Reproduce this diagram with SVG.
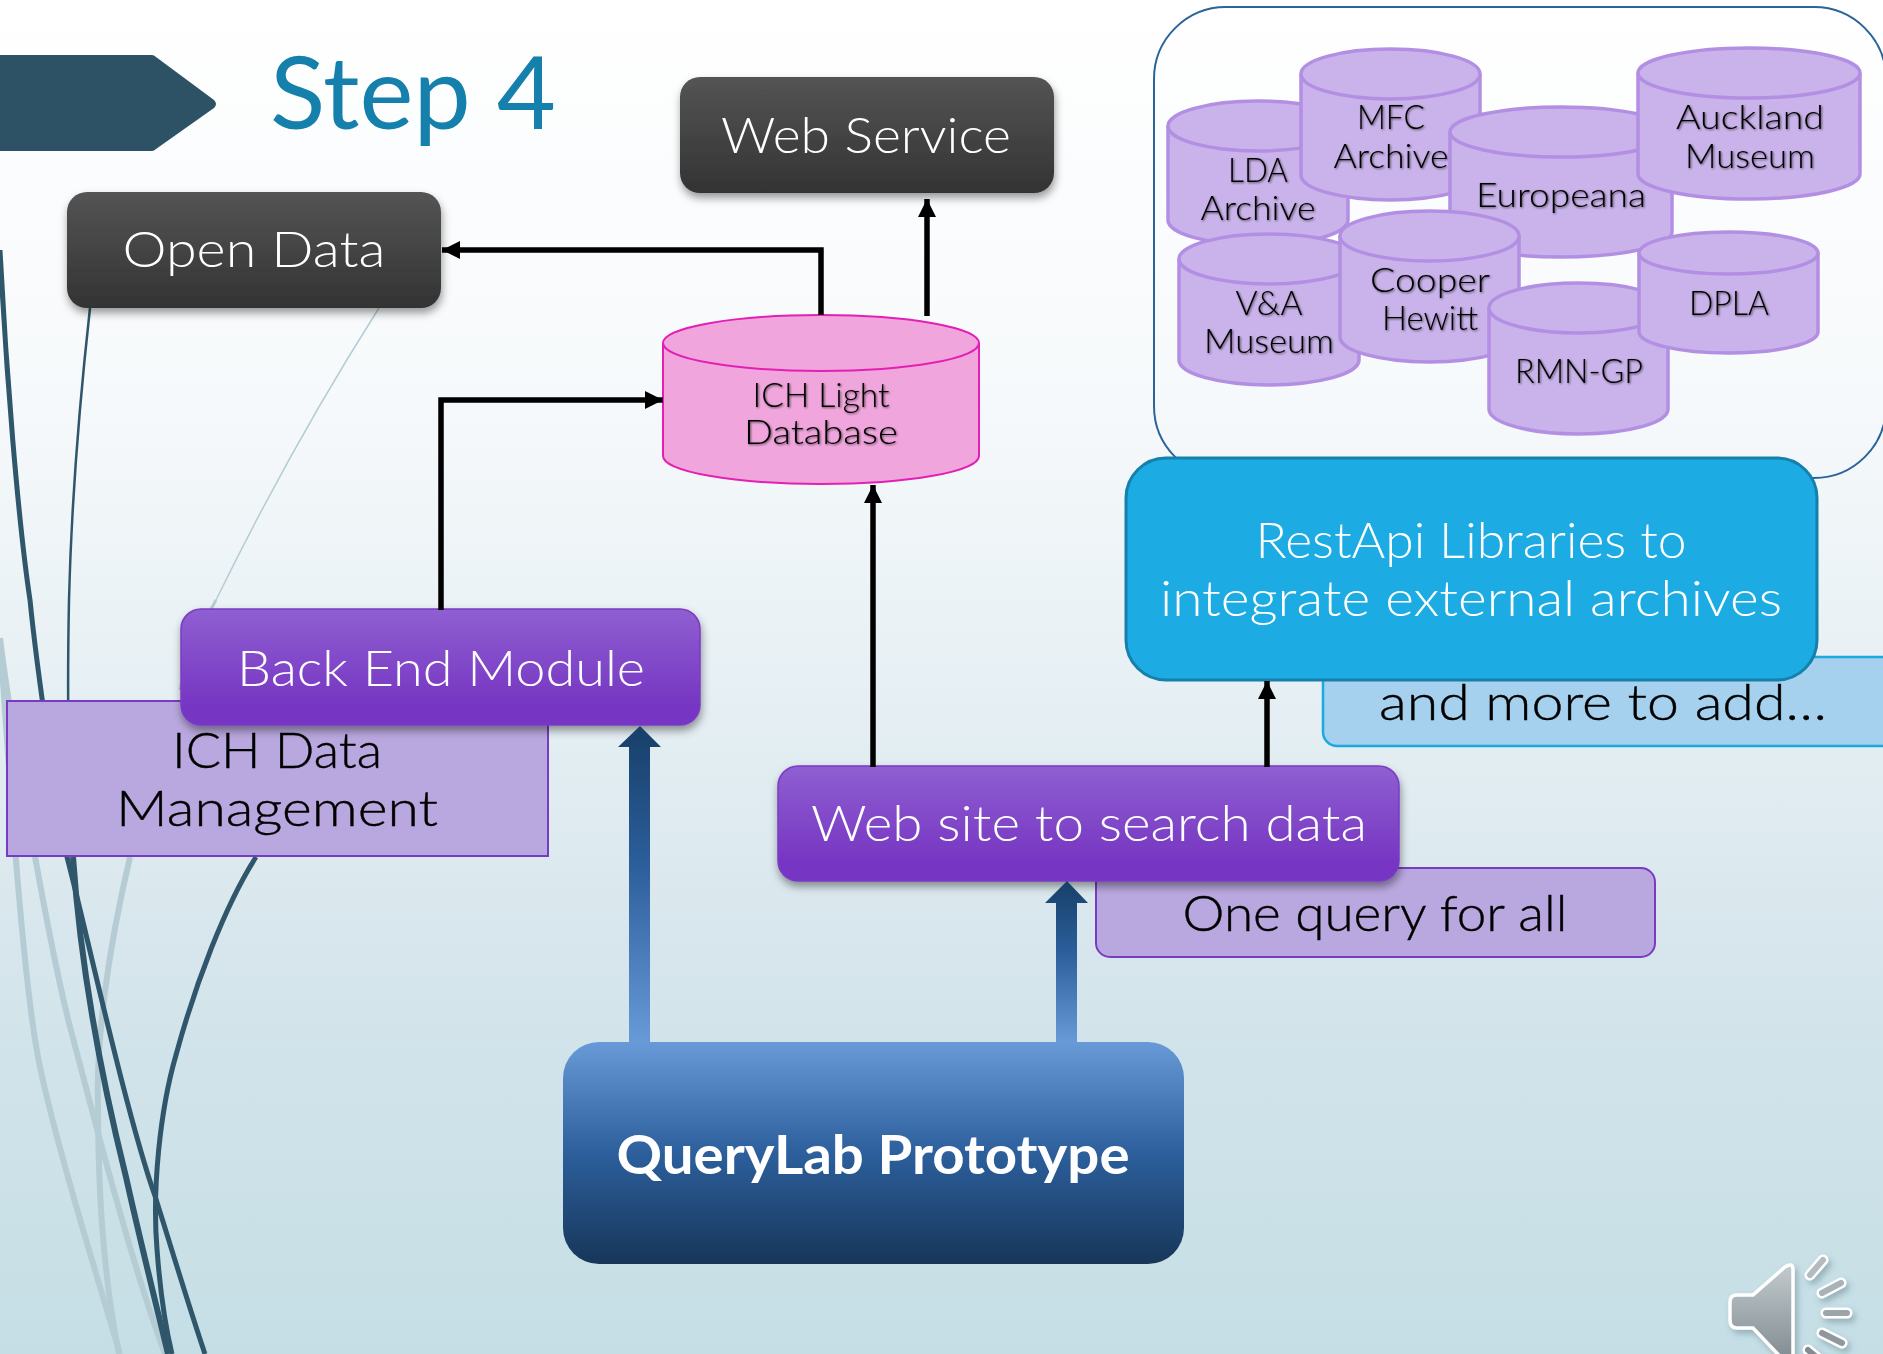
<svg xmlns="http://www.w3.org/2000/svg" width="1883" height="1354" viewBox="0 0 1883 1354">
<style>
text{font-family:"Lato","Open Sans","Liberation Sans",sans-serif;text-anchor:middle}
.w{fill:#fff;font-size:50px;font-weight:300}
.k{fill:#000;font-size:50px;font-weight:300;stroke:#000;stroke-width:.4}
.c{fill:#000;font-size:33px;font-weight:300}
.cyl{fill:#C9B3EA;stroke:#B28FE3;stroke-width:3.5}
.line{fill:none;stroke:#000;stroke-width:5.5}
.dk{fill:none;stroke:#2F566B}
.lt{fill:none;stroke:#B5CCD4}
.ray{stroke:#fff;stroke-width:11;stroke-linecap:round}
.rayi{stroke-width:6;stroke-linecap:round}
</style>
<defs>
<linearGradient id="bg" x1="0" y1="0" x2="0" y2="1"><stop offset="0" stop-color="#fff"/><stop offset=".3" stop-color="#F6F9FB"/><stop offset=".5" stop-color="#E7F0F4"/><stop offset=".75" stop-color="#D3E4EB"/><stop offset="1" stop-color="#C5DEE5"/></linearGradient>
<linearGradient id="dark" x1="0" y1="0" x2="0" y2="1"><stop offset="0" stop-color="#545454"/><stop offset="1" stop-color="#333"/></linearGradient>
<linearGradient id="pur" x1="0" y1="0" x2="0" y2="1"><stop offset="0" stop-color="#8F5FD1"/><stop offset=".85" stop-color="#7635C2"/><stop offset="1" stop-color="#7635C2"/></linearGradient>
<linearGradient id="blue" x1="0" y1="0" x2="0" y2="1"><stop offset="0" stop-color="#679AD7"/><stop offset=".5" stop-color="#2C5F9C"/><stop offset="1" stop-color="#173659"/></linearGradient>
<linearGradient id="shaft" gradientUnits="objectBoundingBox" x1="0" y1="1" x2="0" y2="0"><stop offset="0" stop-color="#679AD7"/><stop offset=".55" stop-color="#2C5F9C"/><stop offset="1" stop-color="#173F69"/></linearGradient>
<linearGradient id="spk" x1="0" y1="0" x2="0" y2="1"><stop offset="0" stop-color="#C2CACD"/><stop offset="1" stop-color="#7A858B"/></linearGradient>
<filter id="sh" x="-10%" y="-15%" width="120%" height="135%"><feDropShadow dx="1" dy="5" stdDeviation="4" flood-color="#000" flood-opacity=".4"/></filter>
<filter id="ts" x="-10%" y="-20%" width="120%" height="140%"><feDropShadow dx="1" dy="1" stdDeviation="1" flood-color="#000" flood-opacity=".6"/></filter>
<filter id="ss" x="-30%" y="-30%" width="170%" height="170%"><feDropShadow dx="3" dy="4" stdDeviation="3" flood-color="#4a6a78" flood-opacity=".4"/></filter>
<marker id="ah" markerUnits="userSpaceOnUse" markerWidth="19" markerHeight="19" refX="18" refY="9" orient="auto"><path d="M0 0L18 9L0 18Z" fill="#000"/></marker>
</defs>

<rect id="background" width="1883" height="1354" fill="url(#bg)"/>

<g id="swirls">
<path class="lt" stroke-width="1.5" d="M379 308C330 385 270 490 216 600"/>
<path class="lt" stroke-width="3" d="M216 600C190 645 180 690 180 690"/>
<path class="lt" stroke-width="6" d="M130 857C108 950 96 1040 98 1105C98 1190 104 1280 119 1354" />
<path class="lt" stroke-width="6" d="M0 640C6 720 20 960 38 1057C52 1130 95 1270 120 1354"/>
<path class="lt" stroke-width="6" d="M0 638C10 720 46 930 69 1023C92 1110 130 1260 165 1354"/>
<path class="dk" stroke-width="5" d="M0 250C6 370 18 520 30 600C38 680 58 810 67 857C85 925 125 1110 155 1196C172 1250 190 1310 205 1354"/>
<path class="dk" stroke-width="2.5" d="M90 308C82 380 72 480 69 600C67 700 68 780 73 857"/>
<path class="dk" stroke-width="6" d="M73 857C78 930 92 1040 126 1177C140 1240 155 1300 168 1354"/>
<path class="dk" stroke-width="5" d="M256 857C225 905 195 985 176 1055C160 1110 152 1190 157 1249C160 1290 165 1325 172 1354"/>
</g>

<g id="step-4">
<path d="M0 55H152Q154 55 156 57L214 100Q218 104 214 108L156 149Q154 151 152 151H0Z" fill="#2D5266"/>
<text x="413" y="129" font-size="100" fill="#1680AD" font-weight="400" textLength="286" lengthAdjust="spacingAndGlyphs">Step 4</text>
</g>

<g id="archives-frame"><rect x="1154" y="7" width="732" height="471" rx="72" fill="none" stroke="#2A6499" stroke-width="2"/></g>

<g id="archive-lda"><path class="cyl" d="M1168 126A90 25 0 0 1 1348 126V220A90 25 0 0 1 1168 220Z"/><path class="cyl" d="M1168 126A90 25 0 0 0 1348 126" fill="none"/><g filter="url(#ts)"><text class="c" x="1258" y="182" textLength="60" lengthAdjust="spacingAndGlyphs">LDA</text><text class="c" x="1258" y="220" textLength="115" lengthAdjust="spacingAndGlyphs">Archive</text></g></g>
<g id="archive-mfc"><path class="cyl" d="M1301 74A89.5 25 0 0 1 1480 74V175A89.5 25 0 0 1 1301 175Z"/><path class="cyl" d="M1301 74A89.5 25 0 0 0 1480 74" fill="none"/><g filter="url(#ts)"><text class="c" x="1391" y="129" textLength="68" lengthAdjust="spacingAndGlyphs">MFC</text><text class="c" x="1391" y="168" textLength="115" lengthAdjust="spacingAndGlyphs">Archive</text></g></g>
<g id="archive-europeana"><path class="cyl" d="M1450 132A111 25 0 0 1 1672 132V232A111 25 0 0 1 1450 232Z"/><path class="cyl" d="M1450 132A111 25 0 0 0 1672 132" fill="none"/><g filter="url(#ts)"><text class="c" x="1561" y="207" textLength="170" lengthAdjust="spacingAndGlyphs">Europeana</text></g></g>
<g id="archive-auckland"><path class="cyl" d="M1638 73A111 25 0 0 1 1860 73V174A111 25 0 0 1 1638 174Z"/><path class="cyl" d="M1638 73A111 25 0 0 0 1860 73" fill="none"/><g filter="url(#ts)"><text class="c" x="1750" y="129" textLength="148" lengthAdjust="spacingAndGlyphs">Auckland</text><text class="c" x="1750" y="168" textLength="130" lengthAdjust="spacingAndGlyphs">Museum</text></g></g>
<g id="archive-va"><path class="cyl" d="M1179 259A90 25 0 0 1 1359 259V360A90 25 0 0 1 1179 360Z"/><path class="cyl" d="M1179 259A90 25 0 0 0 1359 259" fill="none"/><g filter="url(#ts)"><text class="c" x="1269" y="315" textLength="67" lengthAdjust="spacingAndGlyphs">V&amp;A</text><text class="c" x="1269" y="353" textLength="130" lengthAdjust="spacingAndGlyphs">Museum</text></g></g>
<g id="archive-cooper"><path class="cyl" d="M1340 236A89.5 25 0 0 1 1519 236V337A89.5 25 0 0 1 1340 337Z"/><path class="cyl" d="M1340 236A89.5 25 0 0 0 1519 236" fill="none"/><g filter="url(#ts)"><text class="c" x="1430" y="292" textLength="120" lengthAdjust="spacingAndGlyphs">Cooper</text><text class="c" x="1430" y="330" textLength="96" lengthAdjust="spacingAndGlyphs">Hewitt</text></g></g>
<g id="archive-rmn"><path class="cyl" d="M1489 308A89.5 25 0 0 1 1668 308V409A89.5 25 0 0 1 1489 409Z"/><path class="cyl" d="M1489 308A89.5 25 0 0 0 1668 308" fill="none"/><g filter="url(#ts)"><text class="c" x="1579" y="383" textLength="128" lengthAdjust="spacingAndGlyphs">RMN-GP</text></g></g>
<g id="archive-dpla"><path class="cyl" d="M1639 253A89.5 21 0 0 1 1818 253V332A89.5 21 0 0 1 1639 332Z"/><path class="cyl" d="M1639 253A89.5 21 0 0 0 1818 253" fill="none"/><g filter="url(#ts)"><text class="c" x="1729" y="315" textLength="80" lengthAdjust="spacingAndGlyphs">DPLA</text></g></g>

<g id="more-to-add"><rect x="1323" y="657" width="575" height="89" rx="14" fill="#A5D0EE" stroke="#1CA9E0" stroke-width="2.5"/><text class="k" x="1603" y="720" textLength="448" lengthAdjust="spacingAndGlyphs">and more to add…</text></g>

<g id="restapi"><rect x="1126" y="458" width="691" height="222" rx="40" fill="#1CABE2" stroke="#1480AB" stroke-width="3"/><text class="w" x="1471" y="558" textLength="431" lengthAdjust="spacingAndGlyphs">RestApi Libraries to</text><text class="w" x="1471" y="616" textLength="622" lengthAdjust="spacingAndGlyphs">integrate external archives</text></g>

<g id="ich-data"><rect x="7" y="701" width="541" height="155" fill="#B9A7DF" stroke="#7A3BC3" stroke-width="2"/><text class="k" x="277" y="768" textLength="210" lengthAdjust="spacingAndGlyphs">ICH Data</text><text class="k" x="277" y="826" textLength="322" lengthAdjust="spacingAndGlyphs">Management</text></g>

<g id="one-query"><rect x="1096" y="868" width="559" height="89" rx="14" fill="#B9A7DF" stroke="#7A3BC3" stroke-width="2"/><text class="k" x="1375" y="931" textLength="385" lengthAdjust="spacingAndGlyphs">One query for all</text></g>

<g id="open-data"><rect x="67" y="192" width="374" height="116" rx="20" fill="url(#dark)" filter="url(#sh)"/><text class="w" x="254" y="267" textLength="263" lengthAdjust="spacingAndGlyphs">Open Data</text></g>

<g id="web-service"><rect x="680" y="77" width="374" height="116" rx="20" fill="url(#dark)" filter="url(#sh)"/><text class="w" x="866" y="153" textLength="290" lengthAdjust="spacingAndGlyphs">Web Service</text></g>

<g id="ich-light"><path d="M663 343A158 28 0 0 1 979 343V456A158 28 0 0 1 663 456Z" fill="#F0A6DC" stroke="#E31FB5" stroke-width="2"/><path d="M663 343A158 28 0 0 0 979 343" fill="none" stroke="#E31FB5" stroke-width="2"/><g filter="url(#ts)"><text class="c" x="821" y="407" textLength="137" lengthAdjust="spacingAndGlyphs">ICH Light</text><text class="c" x="821" y="444" textLength="154" lengthAdjust="spacingAndGlyphs">Database</text></g></g>

<g id="back-end"><rect x="181" y="609" width="519" height="116" rx="20" fill="url(#pur)" stroke="#7A3BC3" stroke-width="1.5" filter="url(#sh)"/><text class="w" x="441" y="686" textLength="408" lengthAdjust="spacingAndGlyphs">Back End Module</text></g>

<g id="web-site"><rect x="778" y="766" width="621" height="115" rx="20" fill="url(#pur)" stroke="#7A3BC3" stroke-width="1.5" filter="url(#sh)"/><text class="w" x="1089" y="841" textLength="556" lengthAdjust="spacingAndGlyphs">Web site to search data</text></g>

<g id="connectors">
<path class="line" marker-end="url(#ah)" d="M821 315V250H442"/>
<path class="line" marker-end="url(#ah)" d="M927 316V199"/>
<path class="line" marker-end="url(#ah)" d="M441 610V400H663"/>
<path class="line" marker-end="url(#ah)" d="M873 767V485"/>
<path class="line" marker-end="url(#ah)" d="M1267 767V681"/>
<path fill="url(#shaft)" d="M629 1042V747H618L640 726L661 747H650V1042Z"/>
<path fill="url(#shaft)" d="M1056 1042V903H1045L1067 881L1088 903H1077V1042Z"/>
</g>

<g id="querylab"><rect x="563" y="1042" width="621" height="222" rx="36" fill="url(#blue)"/><text x="873" y="1174" fill="#fff" font-size="53" font-weight="700" textLength="513" lengthAdjust="spacingAndGlyphs">QueryLab Prototype</text></g>

<g id="speaker" filter="url(#ss)">
<path d="M1737 1295H1753L1785 1267Q1793 1262 1793 1270V1370L1753 1328H1737Q1730 1328 1730 1320V1302Q1730 1295 1737 1295Z" fill="url(#spk)" stroke="#fff" stroke-width="3.5"/>
<path class="ray" d="M1810 1275L1823 1260M1822 1293L1841 1283M1826 1313L1847 1313M1822 1333L1842 1343M1808 1350L1820 1360"/>
<path class="rayi" stroke="#B3BBBF" d="M1810 1275L1823 1260"/><path class="rayi" stroke="#A9B2B6" d="M1822 1293L1841 1283"/><path class="rayi" stroke="#9CA5AA" d="M1826 1313L1847 1313"/><path class="rayi" stroke="#8E989E" d="M1822 1333L1842 1343"/><path class="rayi" stroke="#828C92" d="M1808 1350L1820 1360"/>
</g>
</svg>
